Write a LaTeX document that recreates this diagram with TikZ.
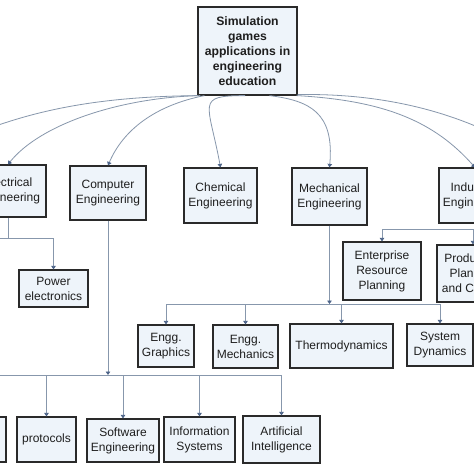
\documentclass[tikz,border=0pt]{standalone}
\usepackage{fontspec}
\setmainfont{Liberation Sans}
\usetikzlibrary{arrows.meta}
\definecolor{boxline}{HTML}{2A2A2A}
\definecolor{boxfill}{HTML}{EEF4FA}
\definecolor{boxtext}{HTML}{1E1E1E}
\definecolor{wiregray}{HTML}{8797AC}
\definecolor{tiptone}{HTML}{4C6388}

\begin{document}
\begin{tikzpicture}[
x=1pt,y=-1pt,
box/.style={draw=boxline,line width=1.2pt,fill=boxfill,text=boxtext,align=center,inner sep=1pt,font=\fontsize{12}{15}\selectfont},
topbox/.style={box,font=\bfseries\fontsize{12.2}{15}\selectfont},
link/.style={draw=wiregray,line width=0.8pt},
arr/.style={link,-{Triangle[width=4.5pt,length=3.5pt,color=tiptone]}}
]
\useasboundingbox (0,0) rectangle (474,474);
\clip (0,0) rectangle (474,474);
\fill[white] (0,0) rectangle (474,474);
% root
\node[topbox,minimum width=99pt,minimum height=88pt] (games) at (247.5,51) {Simulation\\games\\applications in\\engineering\\education};
% disciplines
\node[box,minimum width=76pt,minimum height=52pt] (elec) at (8,191) {Electrical\\Engineering};
\node[box,minimum width=76pt,minimum height=54pt] (comp) at (108,193) {Computer\\Engineering};
\node[box,minimum width=73pt,minimum height=55pt] (chem) at (220.5,195.5) {Chemical\\Engineering};
\node[box,minimum width=75pt,minimum height=57pt] (mech) at (329.5,196.5) {Mechanical\\Engineering};
\node[box,minimum width=72pt,minimum height=55pt] (indus) at (475,195.5) {Industrial\\Engineering};
\coordinate (leftoff) at (-40,140);
\coordinate (rightoff) at (505,140);
% electrical
\node[box,minimum width=69pt,minimum height=37pt] (power) at (53.5,288.5) {Power\\electronics};
% industrial
\node[box,minimum width=78pt,minimum height=58pt] (erp) at (382,271) {Enterprise\\Resource\\Planning};
\node[box,minimum width=72pt,minimum height=57pt] (ppc) at (473,273.5) {Production\\Planning\\and Control};
% mechanical
\node[box,minimum width=56pt,minimum height=42pt] (graphics) at (166,346) {Engg.\\Graphics};
\node[box,minimum width=65pt,minimum height=43pt] (mechanics) at (245.5,346.5) {Engg.\\Mechanics};
\node[box,minimum width=103pt,minimum height=44pt] (thermo) at (341.5,346) {Thermodynamics};
\node[box,minimum width=66pt,minimum height=42pt] (sysdyn) at (440,345) {System\\Dynamics};
% computer
\node[box,minimum width=72pt,minimum height=45pt] (cleft) at (-30,439.5) {};
\node[box,minimum width=59pt,minimum height=45pt] (proto) at (46.5,439.5) {protocols};
\node[box,minimum width=72pt,minimum height=43pt] (soft) at (123,440.5) {Software\\Engineering};
\node[box,minimum width=71pt,minimum height=45pt] (info) at (199.5,439.5) {Information\\Systems};
\node[box,minimum width=77pt,minimum height=47pt] (ai) at (281.5,439.5) {Artificial\\Intelligence};
% curves from the root
\draw[arr] ([xshift=0.5pt]games.south west) .. controls +(-100,1) and +(70,-30) .. (leftoff);
\draw[arr] ([xshift=3pt]games.south west) .. controls +(-81,2) and +(32,-40) .. (elec.north);
\draw[arr] ([xshift=7pt]games.south west) .. controls +(-50,10) and +(15,-35) .. (comp.north);
\draw[arr] ([xshift=-2.5pt]games.south) .. controls +(-50,0) and +(-12,-65) .. (chem.north);
\draw[arr] ([xshift=22pt]games.south) .. controls +(40,5) and +(5,-55) .. (mech.north);
\draw[arr] ([xshift=-1pt]games.south east) .. controls +(90,5) and +(-40,-45) .. (indus.north);
\draw[arr] ([yshift=1pt]games.south east) .. controls +(105,-2) and +(-35,-18) .. (rightoff);
% electrical branch
\coordinate (ebar) at (8,238);
\coordinate (eoff) at (-30,238);
\draw[link] (elec.south) -- (ebar);
\draw[link] (ebar) -- (eoff);
\draw[arr] (ebar) -| (power.north);
% computer branch
\coordinate (cbar) at (108,375);
\draw[arr] (comp.south) -- (cbar);
\draw[link] (cleft.north |- cbar) -- (ai.north |- cbar);
\draw[arr] (cleft.north |- cbar) -- (cleft.north);
\draw[arr] (proto.north |- cbar) -- (proto.north);
\draw[arr] (soft.north |- cbar) -- (soft.north);
\draw[arr] (info.north |- cbar) -- (info.north);
\draw[arr] (ai.north |- cbar) -- (ai.north);
% mechanical branch
\coordinate (mbar) at (329.5,304);
\draw[arr] (mech.south) -- (mbar);
\draw[link] (graphics.north |- mbar) -- (sysdyn.north |- mbar);
\draw[arr] (graphics.north |- mbar) -- (graphics.north);
\draw[arr] (mechanics.north |- mbar) -- (mechanics.north);
\draw[arr] (thermo.north |- mbar) -- (thermo.north);
\draw[arr] (sysdyn.north |- mbar) -- (sysdyn.north);
% industrial branch
\coordinate (ibar) at (475,229);
\draw[link] (indus.south) -- (ibar);
\draw[link] (erp.north |- ibar) -- (ibar);
\draw[arr] (erp.north |- ibar) -- (erp.north);
\draw[arr] (ppc.north |- ibar) -- (ppc.north);
\end{tikzpicture}
\end{document}
